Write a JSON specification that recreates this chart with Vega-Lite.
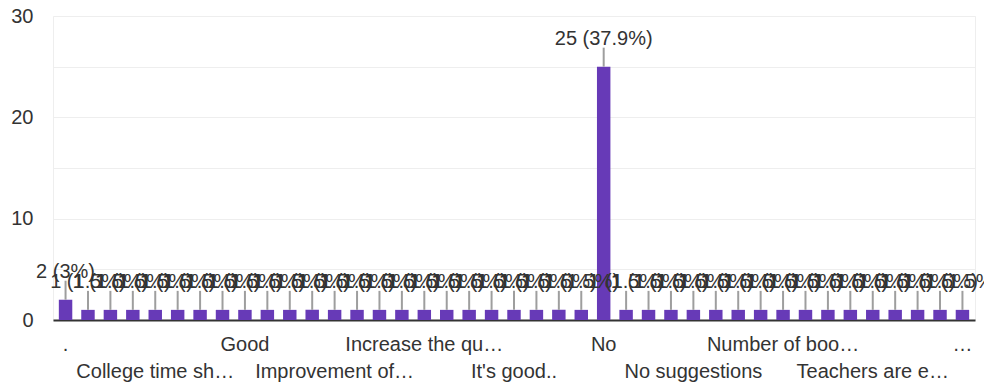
{
  "$schema": "https://vega.github.io/schema/vega-lite/v6.json",
  "width": 922,
  "height": 304,
  "autosize": {"type": "none"},
  "padding": {"left": 53, "top": 16, "right": 9, "bottom": 68},
  "background": "white",
  "config": {
    "view": {"stroke": "#eeeeee", "strokeWidth": 1},
    "font": "Liberation Sans"
  },
  "data": {
    "values": [
      {"answer": ".", "count": 2, "label": "2 (3%)"},
      {"answer": "All good", "count": 1, "label": "1 (1.5%)"},
      {"answer": "Best college", "count": 1, "label": "1 (1.5%)"},
      {"answer": "Better facilities", "count": 1, "label": "1 (1.5%)"},
      {"answer": "College time sh…", "count": 1, "label": "1 (1.5%)"},
      {"answer": "Everything is good", "count": 1, "label": "1 (1.5%)"},
      {"answer": "Excellent", "count": 1, "label": "1 (1.5%)"},
      {"answer": "Fine", "count": 1, "label": "1 (1.5%)"},
      {"answer": "Good", "count": 1, "label": "1 (1.5%)"},
      {"answer": "Good college", "count": 1, "label": "1 (1.5%)"},
      {"answer": "Good infrastructure", "count": 1, "label": "1 (1.5%)"},
      {"answer": "Improve library", "count": 1, "label": "1 (1.5%)"},
      {"answer": "Improvement of…", "count": 1, "label": "1 (1.5%)"},
      {"answer": "Improvements needed", "count": 1, "label": "1 (1.5%)"},
      {"answer": "Include more sports", "count": 1, "label": "1 (1.5%)"},
      {"answer": "Increase facilities", "count": 1, "label": "1 (1.5%)"},
      {"answer": "Increase the qu…", "count": 1, "label": "1 (1.5%)"},
      {"answer": "Increase the time", "count": 1, "label": "1 (1.5%)"},
      {"answer": "It is good", "count": 1, "label": "1 (1.5%)"},
      {"answer": "It's fine", "count": 1, "label": "1 (1.5%)"},
      {"answer": "It's good..", "count": 1, "label": "1 (1.5%)"},
      {"answer": "Keep it up", "count": 1, "label": "1 (1.5%)"},
      {"answer": "More books", "count": 1, "label": "1 (1.5%)"},
      {"answer": "Need more practicals", "count": 1, "label": "1 (1.5%)"},
      {"answer": "No", "count": 25, "label": "25 (37.9%)"},
      {"answer": "No comments", "count": 1, "label": "1 (1.5%)"},
      {"answer": "No problem", "count": 1, "label": "1 (1.5%)"},
      {"answer": "No suggestion", "count": 1, "label": "1 (1.5%)"},
      {"answer": "No suggestions", "count": 1, "label": "1 (1.5%)"},
      {"answer": "None", "count": 1, "label": "1 (1.5%)"},
      {"answer": "Not applicable", "count": 1, "label": "1 (1.5%)"},
      {"answer": "Nothing", "count": 1, "label": "1 (1.5%)"},
      {"answer": "Number of boo…", "count": 1, "label": "1 (1.5%)"},
      {"answer": "Ok", "count": 1, "label": "1 (1.5%)"},
      {"answer": "Please improve canteen", "count": 1, "label": "1 (1.5%)"},
      {"answer": "Sports facilities", "count": 1, "label": "1 (1.5%)"},
      {"answer": "Teachers are e…", "count": 1, "label": "1 (1.5%)"},
      {"answer": "Teachers should be punctual", "count": 1, "label": "1 (1.5%)"},
      {"answer": "Very good", "count": 1, "label": "1 (1.5%)"},
      {"answer": "Wifi facility", "count": 1, "label": "1 (1.5%)"},
      {"answer": "…", "count": 1, "label": "1 (1.5%)"}
    ]
  },
  "encoding": {
    "x": {
      "field": "answer",
      "type": "nominal",
      "sort": null,
      "scale": {"paddingInner": 0.4, "paddingOuter": 0.26},
      "axis": {
        "title": null,
        "values": [".", "College time sh…", "Good", "Improvement of…", "Increase the qu…", "It's good..", "No", "No suggestions", "Number of boo…", "Teachers are e…", "…"],
        "labelAngle": 0,
        "labelFontSize": 20,
        "labelColor": "#333333",
        "labelLimit": 0,
        "labelOverlap": false,
        "labelPadding": {
          "condition": {"test": "indexof(['College time sh…', 'Improvement of…', 'It\\'s good..', 'No suggestions', 'Teachers are e…'], datum.value) >= 0", "value": 41},
          "value": 14
        },
        "ticks": false,
        "domain": true,
        "domainColor": "#333333",
        "domainWidth": 2,
        "grid": false
      }
    },
    "y": {
      "field": "count",
      "type": "quantitative",
      "scale": {"domain": [0, 30], "nice": false},
      "axis": {
        "title": null,
        "values": [0, 5, 10, 15, 20, 25, 30],
        "labelExpr": "datum.value % 10 == 0 ? datum.label : ''",
        "labelFontSize": 20,
        "labelColor": "#333333",
        "labelPadding": 20,
        "ticks": false,
        "domain": false,
        "grid": true,
        "gridColor": "#eeeeee",
        "gridWidth": 1
      }
    }
  },
  "layer": [
    {
      "mark": {"type": "bar", "color": "#673ab7"}
    },
    {
      "mark": {"type": "rule", "color": "#9e9e9e", "strokeWidth": 2, "y2Offset": -19},
      "encoding": {"y2": {"field": "count"}}
    },
    {
      "mark": {"type": "text", "baseline": "alphabetic", "align": "center", "yOffset": -22, "fontSize": 20, "color": "#333333"},
      "encoding": {"text": {"field": "label"}}
    }
  ]
}
